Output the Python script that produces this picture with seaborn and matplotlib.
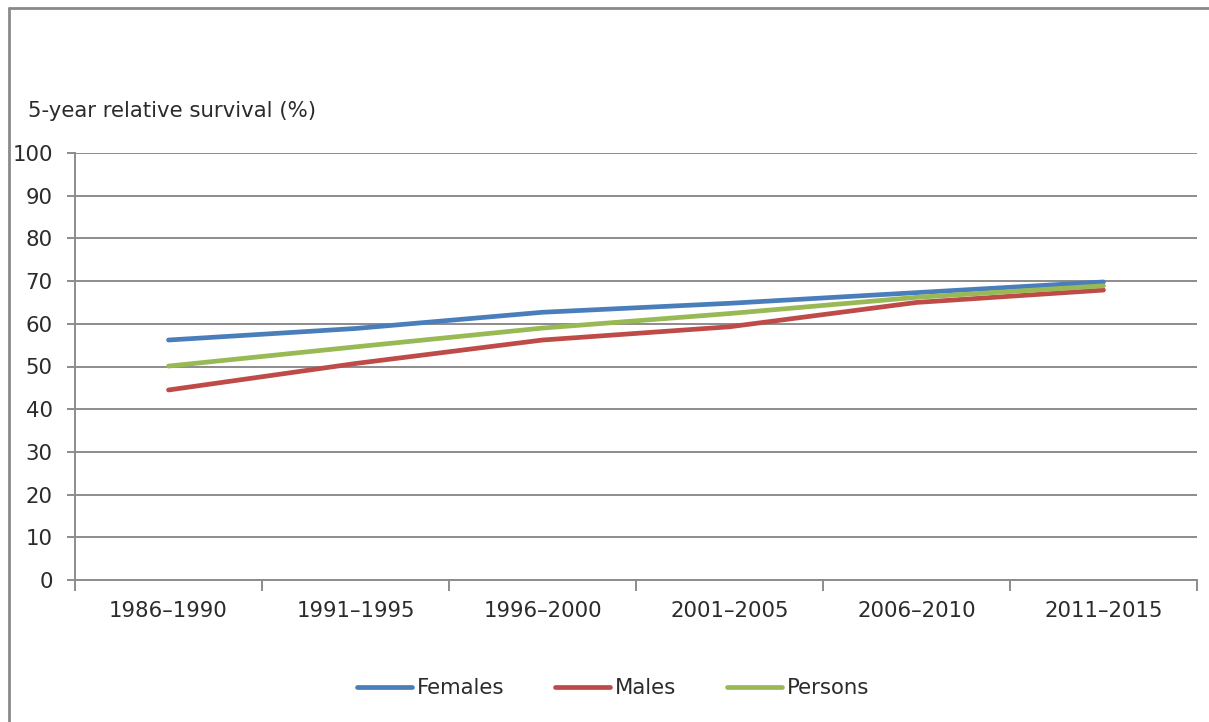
import matplotlib
matplotlib.use("Agg")
import matplotlib.pyplot as plt
from matplotlib.lines import Line2D
import seaborn as sns
import pandas as pd
import numpy as np

periods = ["1986–1990", "1991–1995", "1996–2000", "2001–2005", "2006–2010", "2011–2015"]
females = [56.2, 58.9, 62.7, 64.8, 67.3, 69.8]
males = [44.5, 50.7, 56.2, 59.3, 65.0, 67.9]
persons = [50.1, 54.6, 59.0, 62.4, 66.2, 68.9]
series_names = ["Females", "Males", "Persons"]
colors = ["#4a7ebb", "#be4b48", "#98b954"]

sns.set_theme(style="white")
plt.rcParams["font.family"] = ["DejaVu Sans"]

df = pd.DataFrame({
    "pos": list(range(len(periods))) * 3,
    "value": females + males + persons,
    "series": sum([[n] * len(periods) for n in series_names], []),
})

fig = plt.figure(figsize=(12.09, 7.22), dpi=100)
ax = fig.add_axes([75 / 1209, 1 - 580 / 722, 1122 / 1209, 427 / 722])

grid_c = "#8c8c8c"
text_c = "#2b2b2b"
fs = 15.3

sns.lineplot(data=df, x="pos", y="value", hue="series", palette=colors,
             linewidth=3.4, ax=ax, legend=False, sort=False)
for line in ax.lines:
    line.set_solid_capstyle("round")
    line.set_solid_joinstyle("round")

ax.set_xlim(-0.5, len(periods) - 0.5)
ax.set_ylim(0, 100)
ax.set_yticks(np.arange(0, 101, 10))
ax.yaxis.grid(True, color=grid_c, linewidth=1.4)
ax.set_axisbelow(True)

# category boundaries carry the tick marks, centres carry the labels
ax.set_xticks(np.arange(-0.5, len(periods), 1.0))
ax.set_xticklabels([])
ax.set_xticks(np.arange(len(periods)), minor=True)
ax.set_xticklabels(periods, minor=True)
ax.tick_params(axis="x", which="major", length=8, width=1.4, color=grid_c, direction="out", bottom=True)
ax.tick_params(axis="x", which="minor", length=0, pad=15, labelsize=fs, labelcolor=text_c)
ax.tick_params(axis="y", length=6, width=1.4, color=grid_c, direction="out", left=True,
               labelsize=fs, labelcolor=text_c, pad=10)

for s in ["top", "right"]:
    ax.spines[s].set_visible(False)
for s in ["left", "bottom"]:
    ax.spines[s].set_color(grid_c)
    ax.spines[s].set_linewidth(1.4)

ax.set_xlabel("")
ax.set_ylabel("")

fig.text(28 / 1209, 1 - 111 / 722, "5-year relative survival (%)", fontsize=fs,
         color=text_c, ha="left", va="center")

handles = [Line2D([0], [0], color=c, lw=3.4, solid_capstyle="round") for c in colors]
fig.legend(handles, series_names, loc="center", bbox_to_anchor=(613 / 1209, 1 - 688 / 722),
           ncol=3, frameon=False, fontsize=fs, handlelength=2.6, handletextpad=0.2,
           columnspacing=2.4, labelcolor=text_c)

# chart frame
fig.add_artist(Line2D([9 / 1209, 9 / 1209], [0, 1 - 8 / 722], transform=fig.transFigure,
                      color="#8a8a8a", lw=2))
fig.add_artist(Line2D([9 / 1209, 1], [1 - 8 / 722, 1 - 8 / 722], transform=fig.transFigure,
                      color="#8a8a8a", lw=2))

fig.savefig("out.png", dpi=100, facecolor="white")
